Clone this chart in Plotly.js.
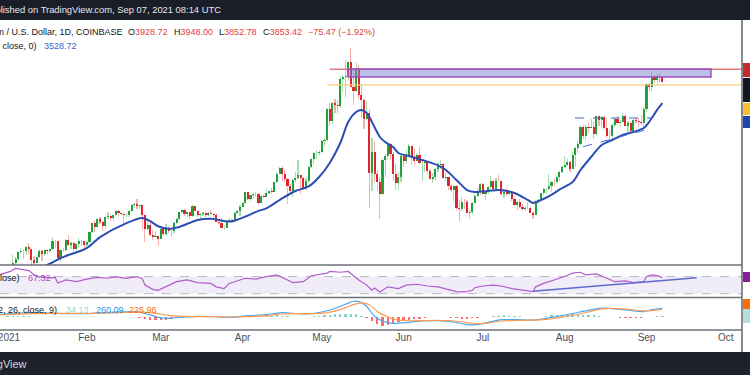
<!DOCTYPE html>
<html><head><meta charset="utf-8">
<script src="https://cdn.plot.ly/plotly-3.0.1.min.js"></script>
<style>html,body{margin:0;padding:0;background:#fff;overflow:hidden}#chart{width:750px;height:375px}</style>
</head><body><div id="chart"></div>
<script>
// ---------- DATA ----------
const firstDay = '2021-01-01';
const opens = [737,730,775,979,1041,1100,1208,1225,1224,1282,1262,1090,1044,1131,1218,1171,1233,1230,1257,1377,1382,1121,1236,1233,1392,1324,1357,1253,1331,1382,1376,
1314,1369,1514,1661,1593,1723,1680,1614,1751,1769,1743,1785,1843,1814,1805,1779,1781,1848,1938,1960,1919,1935,1781,1570,1626,1475,1446,1459,
1416,1565,1487,1574,1541,1533,1654,1723,1834,1868,1796,1826,1772,1924,1854,1790,1806,1823,1780,1811,1806,1783,1683,1669,1584,1588,1699,1712,1689,1817,1847,
1918,1977,2142,2028,2093,2106,2115,1965,2085,2072,2135,2157,2140,2297,2432,2516,2425,2345,2237,2165,2324,2358,2402,2364,2212,2315,2535,2662,2746,2757,
2774,2945,2949,3431,3253,3524,3492,3482,3902,3928,3951,4168,3785,3715,4079,3650,3580,3282,3382,2440,2774,2431,2299,2109,2643,2706,2888,2742,2418,2278,2384,
2706,2633,2706,2855,2690,2630,2713,2589,2600,2609,2472,2353,2372,2509,2566,2584,2366,2372,2230,2177,2244,1889,1874,1989,1988,1812,1829,1977,2084,2162,
2274,2113,2150,2227,2322,2197,2322,2316,2115,2146,2111,2139,2035,1940,1994,1914,1875,1895,1897,1820,1786,1994,2027,2123,2189,2191,2233,2300,2299,2384,2461,
2536,2557,2608,2507,2725,2827,2890,3157,3012,3163,3140,3164,3046,3322,3266,3310,3147,3012,3018,3182,3287,3225,3242,3324,3174,3225,3101,3270,3243,3227,3225,
3432,3831,3787,3938,3887,3951,3928.72];
const highs = [749,787,1000,1159,1135,1211,1278,1260,1300,1347,1263,1150,1136,1250,1246,1264,1264,1262,1440,1392,1386,1258,1275,1410,1470,1373,1360,1355,1435,1393,1380,
1375,1540,1665,1690,1740,1750,1690,1770,1825,1800,1792,1870,1868,1835,1810,1820,1860,1950,1980,2040,1945,1940,1785,1700,1670,1558,1530,1464,
1568,1600,1650,1622,1550,1675,1735,1840,1880,1880,1840,1835,1945,1930,1870,1815,1835,1850,1830,1860,1810,1810,1725,1745,1625,1705,1735,1720,1840,1858,1940,
1990,2150,2145,2100,2125,2150,2135,2095,2105,2195,2165,2205,2300,2470,2530,2545,2490,2360,2265,2340,2450,2650,2405,2370,2360,2545,2680,2760,2795,2795,
2950,2985,3450,3530,3540,3600,3580,3950,3970,4200,4190,4380,4050,4150,4120,3820,3590,3560,3440,2980,2940,2490,2380,2680,2750,2910,2900,2765,2580,2435,2715,
2740,2800,2890,2860,2815,2745,2845,2620,2645,2620,2495,2440,2520,2600,2635,2590,2450,2380,2275,2260,2250,2020,2060,2040,2025,1860,1990,2120,2200,2280,
2280,2160,2240,2390,2325,2355,2410,2320,2185,2200,2160,2165,2045,2010,2030,1950,1925,1985,1905,1835,2025,2040,2130,2200,2200,2430,2320,2345,2400,2470,2550,
2700,2665,2630,2760,2840,2945,3180,3185,3180,3230,3275,3230,3330,3330,3330,3335,3290,3115,3200,3295,3330,3270,3375,3360,3250,3250,3280,3290,3295,3350,3470,
3840,3840,4020,3965,3985,3990,3948.00];
const lows = [714,715,768,897,991,1064,1171,1100,1167,1177,918,1010,1032,1110,1066,1150,1170,1195,1240,1270,1100,1050,1208,1218,1300,1250,1223,1227,1284,1310,1270,
1290,1352,1505,1522,1590,1645,1540,1565,1718,1700,1700,1772,1770,1780,1650,1735,1750,1830,1900,1880,1880,1550,1370,1550,1460,1400,1440,1300,
1410,1460,1480,1500,1443,1505,1640,1705,1820,1775,1760,1730,1750,1845,1750,1730,1770,1760,1770,1800,1740,1675,1650,1580,1545,1585,1690,1670,1680,1800,1770,
1910,1960,2020,2005,2030,2070,1945,1965,2050,2060,2120,2110,2140,2285,2425,2320,2300,1950,2110,2070,2300,2340,2120,2170,2170,2300,2515,2580,2665,2720,
2755,2860,2940,3170,3210,3375,3370,3460,3700,3630,3880,3790,3500,3700,3600,3300,3120,3270,1900,2160,2300,2160,1730,2090,2380,2640,2635,2320,2180,2180,2300,
2530,2580,2690,2560,2560,2620,2580,2320,2460,2420,2340,2290,2320,2450,2500,2350,2320,2180,2140,2000,1870,1700,1850,1880,1810,1720,1800,1970,2060,2100,
2090,2020,2110,2190,2160,2190,2310,2080,2050,2080,2090,2010,1925,1870,1890,1850,1855,1880,1815,1720,1780,1955,2000,2100,2115,2180,2150,2230,2280,2320,2440,
2520,2550,2450,2500,2530,2750,2880,2970,2950,3060,3135,2975,3030,3170,3150,3130,2990,2960,2975,3150,3200,3150,3235,3150,3080,3060,3075,3215,3160,3185,3150,
3390,3720,3710,3840,3840,3860,3852.78];
const closes = [730,775,979,1041,1100,1208,1225,1224,1282,1262,1090,1044,1131,1218,1171,1233,1230,1257,1377,1382,1121,1236,1233,1392,1324,1357,1253,1331,1382,1376,1314,
1369,1514,1661,1593,1723,1680,1614,1751,1769,1743,1785,1843,1814,1805,1779,1781,1848,1938,1960,1919,1935,1781,1570,1626,1475,1446,1459,1416,
1565,1487,1574,1541,1533,1654,1723,1834,1868,1796,1826,1772,1924,1854,1790,1806,1823,1780,1811,1806,1783,1683,1669,1584,1588,1699,1712,1689,1817,1847,1918,
1977,2142,2028,2093,2106,2115,1965,2085,2072,2135,2157,2140,2297,2432,2516,2425,2345,2237,2165,2324,2358,2402,2364,2212,2315,2535,2662,2746,2757,2774,
2945,2949,3431,3253,3524,3492,3482,3902,3928,3951,4168,3785,3715,4079,3650,3580,3282,3382,2440,2774,2431,2299,2109,2643,2706,2888,2742,2418,2278,2384,2706,
2633,2706,2855,2690,2630,2713,2589,2600,2609,2472,2353,2372,2509,2566,2584,2366,2372,2230,2177,2244,1889,1874,1989,1988,1812,1829,1977,2084,2162,2274,
2113,2150,2227,2322,2197,2322,2316,2115,2146,2111,2139,2035,1940,1994,1914,1875,1895,1897,1820,1786,1994,2027,2123,2189,2191,2233,2300,2299,2384,2461,2536,
2557,2608,2507,2725,2827,2890,3157,3012,3163,3140,3164,3046,3322,3266,3310,3147,3012,3018,3182,3287,3225,3242,3324,3174,3225,3101,3270,3243,3227,3225,3432,
3831,3787,3938,3887,3951,3928,3853.42];

// EMA (20)
const emaDates = ['2021-01-12','2021-01-17','2021-01-23','2021-02-01','2021-02-06','2021-02-16','2021-02-22','2021-02-25','2021-02-28','2021-03-04','2021-03-08','2021-03-15','2021-03-20','2021-03-25','2021-03-28','2021-04-02','2021-04-07','2021-04-10','2021-04-16','2021-04-21','2021-04-26','2021-04-30','2021-05-04','2021-05-08','2021-05-11','2021-05-14','2021-05-16','2021-05-18','2021-05-20','2021-05-23','2021-05-25','2021-05-28','2021-05-30','2021-06-03','2021-06-08','2021-06-14','2021-06-17','2021-06-21','2021-06-25','2021-06-28','2021-07-03','2021-07-07','2021-07-13','2021-07-18','2021-07-20','2021-07-22','2021-07-27','2021-07-30','2021-08-04','2021-08-07','2021-08-11','2021-08-15','2021-08-19','2021-08-23','2021-08-27','2021-08-31','2021-09-02','2021-09-05','2021-09-07'];
const emaValues = [930,1010,1130,1270,1440,1660,1740,1690,1610,1570,1600,1708,1728,1692,1685,1760,1850,1890,2046,2160,2230,2378,2596,2907,3235,3390,3422,3375,3235,3001,2923,2845,2752,2705,2643,2560,2487,2331,2175,2144,2160,2175,2129,2020,1973,2000,2100,2180,2300,2487,2689,2876,2954,3032,3079,3141,3235,3422,3528.72];

// RSI (14)
const rsiDates = ['2020-12-30','2021-01-03','2021-01-05','2021-01-08','2021-01-10','2021-01-11','2021-01-13','2021-01-18','2021-01-20','2021-01-21','2021-01-24','2021-01-28','2021-02-01','2021-02-05','2021-02-09','2021-02-12','2021-02-16','2021-02-20','2021-02-22','2021-02-23','2021-02-26','2021-02-28','2021-03-03','2021-03-07','2021-03-11','2021-03-15','2021-03-20','2021-03-22','2021-03-25','2021-03-27','2021-04-02','2021-04-06','2021-04-10','2021-04-14','2021-04-18','2021-04-20','2021-04-24','2021-04-27','2021-05-03','2021-05-04','2021-05-08','2021-05-11','2021-05-15','2021-05-18','2021-05-20','2021-05-21','2021-05-23','2021-05-26','2021-05-30','2021-06-02','2021-06-06','2021-06-10','2021-06-14','2021-06-17','2021-06-21','2021-06-24','2021-06-27','2021-06-28','2021-07-01','2021-07-05','2021-07-08','2021-07-12','2021-07-15','2021-07-20','2021-07-21','2021-07-24','2021-07-28','2021-08-01','2021-08-04','2021-08-07','2021-08-09','2021-08-13','2021-08-17','2021-08-20','2021-08-24','2021-08-27','2021-08-31','2021-09-01','2021-09-03','2021-09-05','2021-09-07'];
const rsiValues = [74,82,89,86,84,79,70,67,68,55,62,58,64,68,66,69,66,70,65,50,40,38,46,58,62,56,54,46,42,54,66,64,70,74,62,56,58,72,78,82,80,82,62,50,38,43,34,46,42,50,52,48,46,42,35,34,38,44,48,50,48,42,40,35,46,54,62,70,78,80,74,76,66,58,60,56,58,70,74,72,67.32];
const rsiTrendDates = ['2021-07-20','2021-09-20'];
const rsiTrendValues = [35.5, 67];

// MACD (12, 26, close, 9)
const macdDates = ['2020-12-30','2021-01-10','2021-01-20','2021-02-01','2021-02-10','2021-02-20','2021-02-24','2021-02-28','2021-03-04','2021-03-10','2021-03-15','2021-03-22','2021-03-27','2021-04-03','2021-04-10','2021-04-16','2021-04-20','2021-04-25','2021-05-01','2021-05-05','2021-05-10','2021-05-13','2021-05-16','2021-05-18','2021-05-20','2021-05-22','2021-05-25','2021-05-28','2021-06-02','2021-06-08','2021-06-14','2021-06-20','2021-06-24','2021-06-27','2021-07-03','2021-07-08','2021-07-14','2021-07-20','2021-07-25','2021-07-30','2021-08-05','2021-08-10','2021-08-14','2021-08-18','2021-08-23','2021-08-27','2021-08-31','2021-09-03','2021-09-07'];
const macdValues = [80,130,110,100,140,160,90,-10,-40,0,20,10,-10,40,70,130,110,90,150,230,380,470,430,320,110,-40,-150,-190,-170,-120,-110,-150,-210,-240,-160,-80,-80,-90,-40,30,120,200,260,255,220,180,160,220,260.09];
const signalValues = [60,100,110,105,125,150,140,100,50,20,10,10,0,10,40,90,100,100,110,160,280,370,420,400,310,160,40,-60,-110,-110,-100,-120,-150,-190,-180,-120,-100,-95,-70,-20,60,150,230,255,240,210,180,190,225.96];
// histogram, every second day from Jan 2
const histValues = [25,30,30,25,20,12,5,0,-5,-5,0,5,5,0,-5,
0,5,10,15,15,15,12,10,10,10,-15,-60,-85,-100,
-95,-80,-60,-40,-20,0,10,12,8,3,-3,-8,-12,-10,0,10,
20,28,30,28,32,40,45,35,18,5,-5,-5,5,20,35,
45,60,75,90,95,100,85,40,-20,-130,-220,-255,-235,-200,-160,
-130,-100,-70,-45,-25,-10,0,5,-5,-20,-35,-50,-45,-30,-15,
0,15,30,40,45,40,30,20,10,3,5,15,30,45,55,65,
72,75,75,70,60,48,32,15,0,-12,-22,-30,-32,-28,-22,
-5,15,28,34.13];

// drawn levels / zones
const resistanceLevel = 4055, resistanceFrom = '2021-05-04';
const supportLevel = 3811, supportFrom = '2021-05-03';
const zoneDates = ['2021-05-11', '2021-09-25 10:00'];
const zonePrices = [3936, 4060];
const flagTopDates = ['2021-08-04 22:00','2021-09-03 05:00'], flagTopValues = [3297, 3297];
const flagBotDates = ['2021-08-08','2021-09-03'], flagBotValues = [2850, 3136];

const tickDates = ['2021-01-02 12:00','2021-02-01','2021-03-01','2021-04-01','2021-05-01','2021-06-01','2021-07-01','2021-08-01','2021-09-01','2021-10-01'];
const tickLabels = ['2021','Feb','Mar','Apr','May','Jun','Jul','Aug','Sep','Oct'];

// ---------- BUILD ----------
function dayStr(i){ const d=new Date(Date.UTC(2021,0,1+i)); return d.toISOString().slice(0,10); }
const dates = closes.map((_,i)=>dayStr(i));
const histDates = histValues.map((_,k)=>dayStr(1+2*k));
const DAY = 86400000;
const up = closes.map((c,i)=>c>=opens[i]);
const GREEN='#22a03a', RED='#e0252b';
const FONT='Liberation Sans, Arial, sans-serif';

const traces = [
  {type:'bar', x:dates, base:lows, y:highs.map((h,i)=>h-lows[i]), width:0.42*DAY,
   marker:{color:up.map(u=>u?'rgba(60,175,80,0.45)':'rgba(235,80,80,0.45)'), line:{width:0}},
   xaxis:'x', yaxis:'y', hoverinfo:'skip'},
  {type:'bar', x:dates, base:opens, y:closes.map((c,i)=>c-opens[i]), width:0.8*DAY,
   marker:{color:up.map(u=>u?GREEN:RED), line:{width:0}}, xaxis:'x', yaxis:'y', hoverinfo:'skip'},
  {type:'scatter', mode:'lines', x:emaDates, y:emaValues, line:{color:'#2c4db3', width:2, shape:'spline', smoothing:0.8}, xaxis:'x', yaxis:'y'},
  {type:'scatter', mode:'lines', x:flagTopDates, y:flagTopValues, line:{color:'#4a67d6', width:1, dash:'dash'}, xaxis:'x', yaxis:'y'},
  {type:'scatter', mode:'lines', x:flagBotDates, y:flagBotValues, line:{color:'#4a67d6', width:1, dash:'dash'}, xaxis:'x', yaxis:'y'},
  {type:'scatter', mode:'lines', x:rsiDates, y:rsiValues, line:{color:'#b15ccb', width:1.2}, xaxis:'x', yaxis:'y2'},
  {type:'scatter', mode:'lines', x:rsiTrendDates, y:rsiTrendValues, line:{color:'#5f6bcc', width:1.5}, xaxis:'x', yaxis:'y2'},
  {type:'bar', x:histDates, y:histValues, width:0.9*DAY,
   marker:{color:histValues.map(v=>v>=0?'rgba(38,166,154,0.55)':'rgba(255,82,82,0.85)'), line:{width:0}}, xaxis:'x', yaxis:'y3', hoverinfo:'skip'},
  {type:'scatter', mode:'lines', x:macdDates, y:macdValues, line:{color:'#46a8f2', width:1.2, shape:'spline', smoothing:0.6}, xaxis:'x', yaxis:'y3'},
  {type:'scatter', mode:'lines', x:macdDates, y:signalValues, line:{color:'#ff9a52', width:1.2, shape:'spline', smoothing:0.6}, xaxis:'x', yaxis:'y3'}
];

const W=750, H=375;
const px = x => x/W, py = y => (H-y)/H;
function rectPx(x0,y0,x1,y1,color){ return {type:'rect', xref:'paper', yref:'paper', x0:px(x0), x1:px(x1), y0:py(y1), y1:py(y0), fillcolor:color, line:{width:0}, layer:'above'}; }
function linePx(x0,y0,x1,y1,color,w){ return {type:'line', xref:'paper', yref:'paper', x0:px(x0), x1:px(x1), y0:py(y0), y1:py(y1), line:{color:color, width:w}, layer:'above'}; }

const shapes = [
  {type:'rect', xref:'paper', yref:'y2', x0:0, x1:px(742), y0:30, y1:70, fillcolor:'rgba(126,87,194,0.11)', line:{width:0}, layer:'below'},
  {type:'line', xref:'paper', yref:'y2', x0:0, x1:px(742), y0:70, y1:70, line:{color:'#b7b9c2', width:1, dash:'dash'}, layer:'below'},
  {type:'line', xref:'paper', yref:'y2', x0:0, x1:px(742), y0:30, y1:30, line:{color:'#b7b9c2', width:1, dash:'dash'}, layer:'below'},
  {type:'line', xref:'x', yref:'y', x0:supportFrom, x1:'2021-10-12', y0:supportLevel, y1:supportLevel, line:{color:'#f8cd7a', width:1.2}, layer:'above'},
  {type:'line', xref:'x', yref:'y', x0:resistanceFrom, x1:'2021-10-12', y0:resistanceLevel, y1:resistanceLevel, line:{color:'#e07a7a', width:1.4}, layer:'above'},
  {type:'rect', xref:'x', yref:'y', x0:zoneDates[0], x1:zoneDates[1], y0:zonePrices[0], y1:zonePrices[1], fillcolor:'rgba(118,132,205,0.5)', line:{color:'#a24cc4', width:1.5}, layer:'above'},
  rectPx(0,0,750,20,'#1a1e29'),
  rectPx(0,352,750,375,'#1e222d'),
  linePx(0,265,742,265,'#6d707a',1.6),
  linePx(0,297.5,742,297.5,'#6d707a',1.6),
  linePx(0,330,742,330,'#6d707a',1.6),
  linePx(742,20,742,352,'#6d707a',1.6),
  rectPx(743,63,750,77,'#c62a2a'),
  rectPx(743,78,750,102,'#131722'),
  rectPx(743,103,750,115,'#f8be2c'),
  rectPx(743,116,750,128,'#1f42ad'),
  rectPx(743,272,750,282,'#8b1e99'),
  rectPx(743,299,750,309,'#ff6d00'),
  rectPx(743,309,750,323,'#b2dfdb')
];

function ann(text,x,y,anchor,color,size){
  return {text:text, xref:'paper', yref:'paper', x:px(x), y:py(y), xanchor:anchor, yanchor:'middle', showarrow:false,
          font:{family:FONT, size:size||9, color:color}, borderpad:0};
}
const RV='#e0403f';
const annotations = [
  ann('Published on TradingView.com, Sep 07, 2021 08:14 UTC', 222, 10, 'right', '#e6e8ee', 9.4),
  ann('Ethereum / U.S. Dollar, 1D, COINBASE', 124, 32, 'right', '#131722'),
  ann('O<span style="color:'+RV+'">3928.72</span>', 127, 32, 'left', '#131722'),
  ann('H<span style="color:'+RV+'">3948.00</span>', 173, 32, 'left', '#131722'),
  ann('L<span style="color:'+RV+'">3852.78</span>', 218, 32, 'left', '#131722'),
  ann('C<span style="color:'+RV+'">3853.42</span>', 262, 32, 'left', '#131722'),
  ann('\u221275.47 (\u22121.92%)', 307, 32, 'left', RV),
  ann('EMA (20, close, 0)', 38, 46, 'right', '#131722'),
  ann('3528.72', 43, 46, 'left', '#3a5fc8'),
  ann('RSI (14, close)', 21, 278, 'right', '#131722'),
  ann('67.32', 27, 278, 'left', '#a44dbf'),
  ann('MACD (12, 26, close, 9)', 58, 310, 'right', '#131722'),
  ann('34.13', 65, 310, 'left', '#9ed3ce'),
  ann('260.09', 95, 310, 'left', '#2196f3'),
  ann('225.96', 128, 310, 'left', '#ff6d00'),
  ann('TradingView', 28, 364, 'right', '#d1d4dc', 11)
];

const layout = {
  width:W, height:H, margin:{l:0,r:0,t:0,b:0}, paper_bgcolor:'#ffffff', plot_bgcolor:'#ffffff',
  showlegend:false, barmode:'overlay', bargap:0, hovermode:false,
  xaxis:{type:'date', domain:[0,px(742)], range:['2020-12-30 02:30','2021-10-07 04:00'], anchor:'y3',
         tickmode:'array', tickvals:tickDates, ticktext:tickLabels, ticks:'', showgrid:false, zeroline:false, showline:false,
         ticklabeloverflow:'allow', tickfont:{family:FONT, size:10, color:'#4c4f59'}, fixedrange:true},
  yaxis:{domain:[py(265),py(20)], range:[1007,4823], visible:false, anchor:'x', fixedrange:true},
  yaxis2:{domain:[py(297.5),py(265.5)], range:[21.1,95.8], visible:false, anchor:'x', fixedrange:true},
  yaxis3:{domain:[py(330),py(298)], range:[-388,567], visible:false, anchor:'x', fixedrange:true},
  shapes:shapes, annotations:annotations
};
Plotly.newPlot('chart', traces, layout, {staticPlot:true, displayModeBar:false});
</script></body></html>
